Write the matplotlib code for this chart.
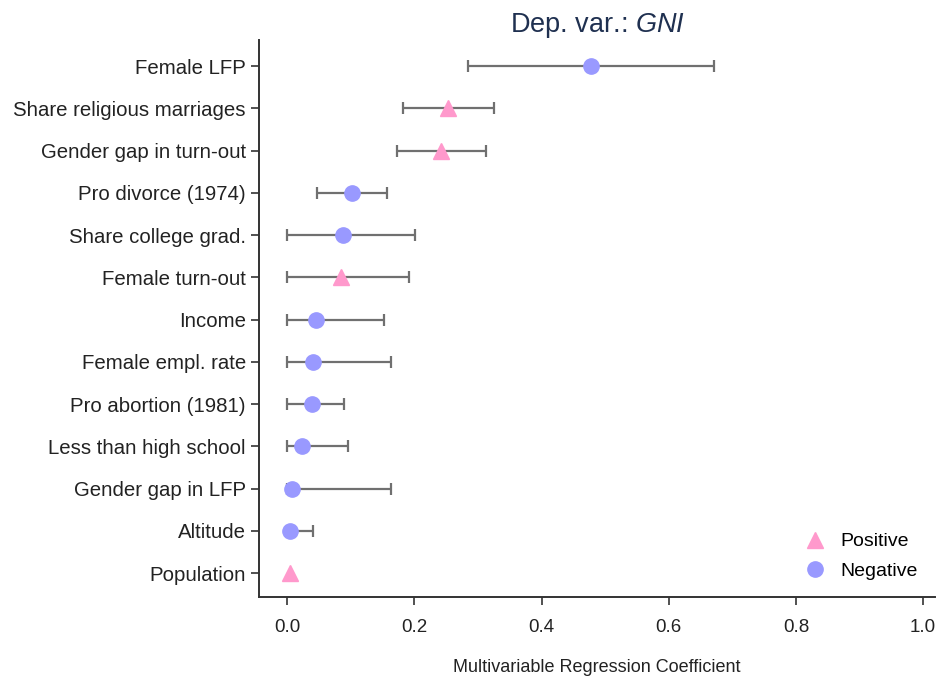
import matplotlib.pyplot as plt

plt.rcParams['font.family'] = ['Liberation Sans', 'DejaVu Sans']
plt.rcParams['mathtext.fontset'] = 'custom'
plt.rcParams['mathtext.it'] = 'Liberation Sans:italic'
plt.rcParams['mathtext.rm'] = 'Liberation Sans'

# rows from top to bottom
labels = ['Female LFP', 'Share religious marriages', 'Gender gap in turn-out',
          'Pro divorce (1974)', 'Share college grad.', 'Female turn-out', 'Income',
          'Female empl. rate', 'Pro abortion (1981)', 'Less than high school',
          'Gender gap in LFP', 'Altitude', 'Population']
coef = [0.478, 0.253, 0.242, 0.102, 0.088, 0.085, 0.045, 0.041, 0.039, 0.023,
        0.007, 0.005, 0.004]
lo = [0.285, 0.182, 0.172, 0.047, 0.0, 0.0, 0.0, 0.0, 0.0, 0.0, 0.0, 0.0, 0.004]
hi = [0.671, 0.325, 0.312, 0.157, 0.201, 0.191, 0.153, 0.163, 0.090, 0.096,
      0.163, 0.041, 0.004]
sign = ['neg', 'pos', 'pos', 'neg', 'neg', 'pos', 'neg', 'neg', 'neg', 'neg',
        'neg', 'neg', 'pos']

pink = '#ff99cc'
blue = '#9999ff'

fig = plt.figure(figsize=(9.39, 6.77), dpi=100)
ax = fig.add_axes([0.276, 0.118, 0.72, 0.823])

n = len(labels)
ypos = [n - 1 - i for i in range(n)]

for i in range(n):
    if hi[i] > lo[i]:
        ax.errorbar([coef[i]], [ypos[i]],
                    xerr=[[coef[i] - lo[i]], [hi[i] - coef[i]]],
                    fmt='none', ecolor='#707070', elinewidth=1.6,
                    capsize=4, capthick=1.6, zorder=2)
    if sign[i] == 'pos':
        ax.plot(coef[i], ypos[i], marker='^', ms=12, color=pink, ls='none', zorder=3)
    else:
        ax.plot(coef[i], ypos[i], marker='o', ms=11, color=blue, ls='none', zorder=3)

ax.plot([], [], marker='^', ms=12, color=pink, ls='none', label='Positive')
ax.plot([], [], marker='o', ms=11, color=blue, ls='none', label='Negative')
ax.legend(loc='lower right', frameon=False, fontsize=14, handletextpad=0.3,
          labelspacing=0.6, bbox_to_anchor=(1.0, 0.0))

ax.set_yticks(ypos)
ax.set_yticklabels(labels, fontsize=14.7, color='#222222')
ax.set_ylim(-0.57, n - 1 + 0.62)
ax.set_xlim(-0.044, 1.019)
ax.set_xticks([0.0, 0.2, 0.4, 0.6, 0.8, 1.0])
ax.set_xticklabels(['0.0', '0.2', '0.4', '0.6', '0.8', '1.0'], fontsize=13.5,
                   color='#222222')
ax.tick_params(axis='both', length=6, width=1.2, color='#333333')
ax.tick_params(axis='x', pad=10)
for s in ['top', 'right']:
    ax.spines[s].set_visible(False)
for s in ['left', 'bottom']:
    ax.spines[s].set_color('#333333')
    ax.spines[s].set_linewidth(1.4)

ax.set_xlabel('Multivariable Regression Coefficient', fontsize=13,
              color='#222222', labelpad=16)
ax.set_title('Dep. var.: $\\mathit{GNI}$', fontsize=19.5, color='#1f3050', pad=5)

fig.savefig('out.png', dpi=100)
